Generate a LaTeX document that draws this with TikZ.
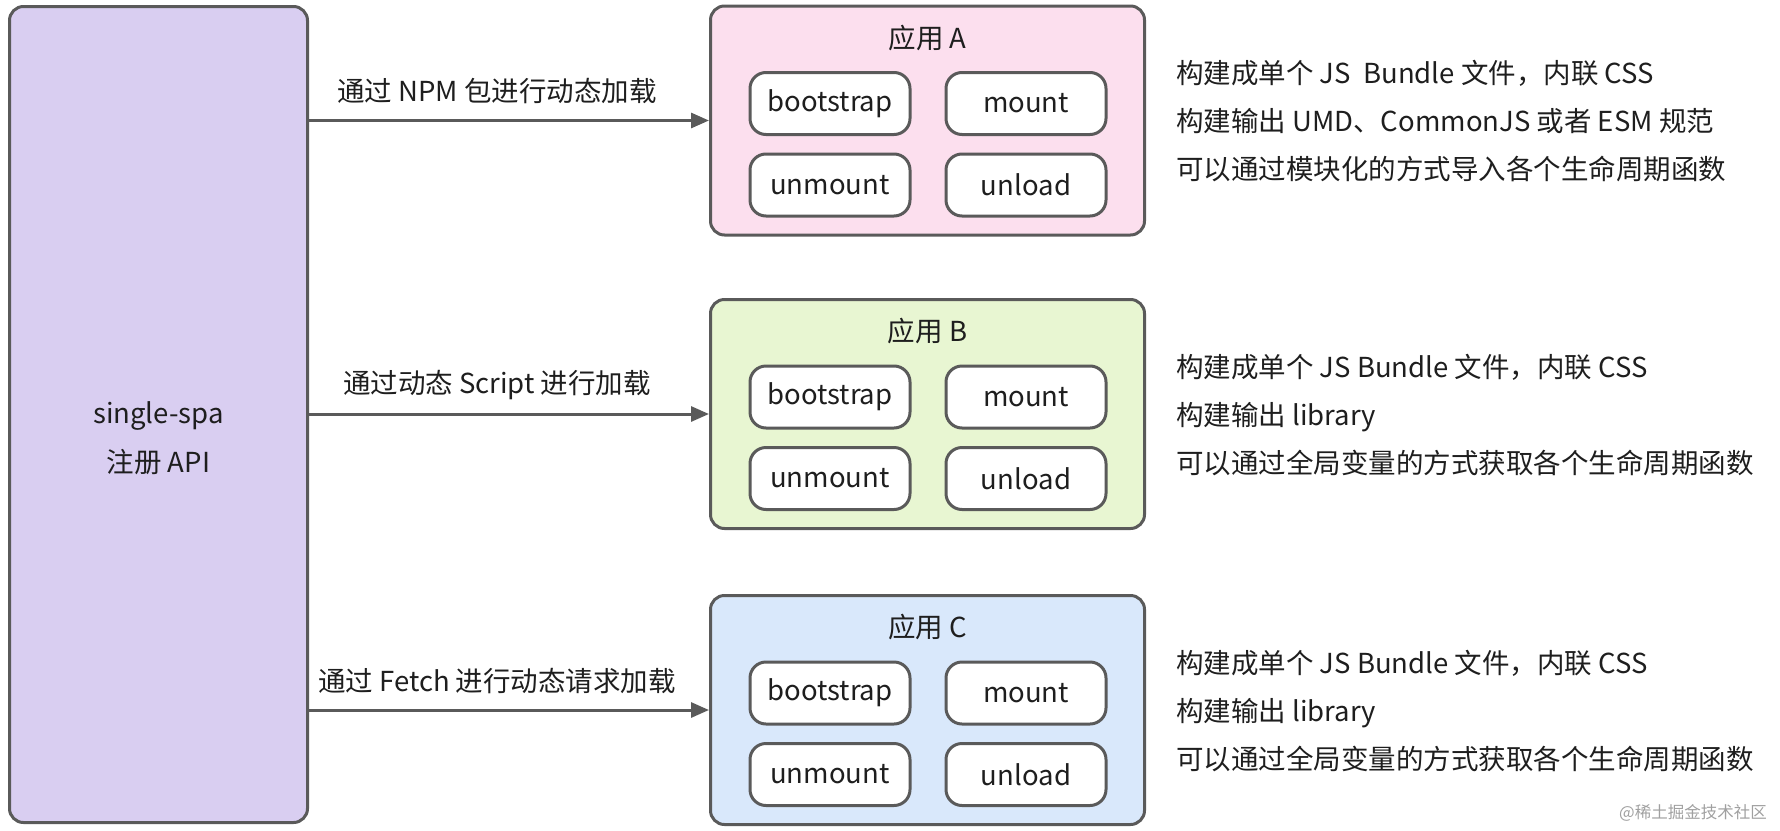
\documentclass[tikz,border=0pt]{standalone}
\usepackage{fontspec}
\setmainfont{Noto Sans CJK SC}
\usepackage{tikz}
\usetikzlibrary{positioning,arrows.meta}
\definecolor{edgegray}{HTML}{5A5A5A}
\definecolor{ink}{HTML}{1E1E1E}
\definecolor{spapurple}{HTML}{D9CEF1}
\definecolor{apppink}{HTML}{FCDFEE}
\definecolor{appgreen}{HTML}{E8F6D2}
\definecolor{appblue}{HTML}{D9E8FB}
\definecolor{markgray}{HTML}{A0A0A0}
\tikzset{
  box/.style={draw=edgegray, line width=3pt, rounded corners=14pt, inner sep=0pt},
  hook/.style={box, fill=white, minimum width=160pt, minimum height=62pt, rounded corners=16pt},
  flow/.style={draw=edgegray, line width=3pt, -{Triangle[length=18pt,width=15pt]}},
  note/.style={align=left, font=\fontsize{27.5}{48}\selectfont, inner sep=0pt},
}
\begin{document}
\begin{tikzpicture}[x=1pt, y=-1pt, font=\fontsize{27.5}{32}\selectfont, text=ink]
      \useasboundingbox (0,0) rectangle (1780,830);
      \node[box, fill=spapurple, minimum width=298pt, minimum height=816pt] (spa) at (158.5,414.5) {};
      \node[align=center, font=\fontsize{27.5}{49}\selectfont] (spatext) at (158.5,438) {single-spa\\注册 API};
      \foreach \app/\y/\tint in {A/120.5/apppink, B/414/appgreen, C/710/appblue}{
        \node[box, fill=\tint, minimum width=434pt, minimum height=229pt] (app\app) at (927.5,\y) {};
        \node (title\app) at (927.5,\y-82.5) {应用 \app};
        \node[hook] (boot\app) at (830,\y-17) {bootstrap};
        \node[hook] (mount\app) at (1026,\y-17) {mount};
        \node[hook] (unmount\app) at (830,\y+64.5) {unmount};
        \node[hook] (unload\app) at (1026,\y+64.5) {unload};
      }
      \draw[flow] (spa.east |- appA.west) -- node[pos=0.47, yshift=29pt] (viaA) {通过 NPM 包进行动态加载} (appA.west);
      \draw[flow] (spa.east |- appB.west) -- node[pos=0.47, yshift=29pt] (viaB) {通过动态 Script 进行加载} (appB.west);
      \draw[flow] (spa.east |- appC.west) -- node[pos=0.47, yshift=29pt] (viaC) {通过 Fetch 进行动态请求加载} (appC.west);
      \node[note, right=30pt of appA, yshift=-1pt] (noteA) {构建成单个 JS\ \ Bundle 文件，内联 CSS\\构建输出 UMD、CommonJS 或者 ESM 规范\\可以通过模块化的方式导入各个生命周期函数};
      \node[note, right=30pt of appB, yshift=-1pt] (noteB) {构建成单个 JS Bundle 文件，内联 CSS\\构建输出 library\\可以通过全局变量的方式获取各个生命周期函数};
      \node[note, right=30pt of appC, yshift=-1pt] (noteC) {构建成单个 JS Bundle 文件，内联 CSS\\构建输出 library\\可以通过全局变量的方式获取各个生命周期函数};
      \node[text=markgray, font=\fontsize{16.5}{18}\selectfont] (mark) at (1693,813) {@稀土掘金技术社区};
    \end{tikzpicture}
\end{document}
